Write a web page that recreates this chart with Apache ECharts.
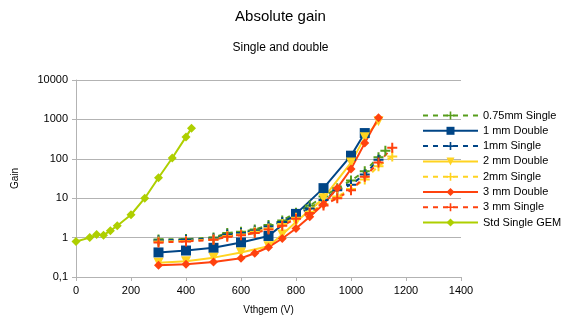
<!DOCTYPE html>
<html>
<head>
<meta charset="utf-8">
<script src="https://cdn.jsdelivr.net/npm/echarts@6/dist/echarts.min.js"></script>
<style>
  html, body { margin: 0; padding: 0; background: #fff; }
  #chart { width: 561px; height: 325px; }
</style>
</head>
<body>
<div id="chart"></div>
<script>
// voltages (V) and gains
var vSingle = [300, 400, 500, 550, 600, 650, 700, 750, 800, 850, 900, 950, 1000, 1050, 1100, 1125];
var gain075Single = [0.9, 0.92, 1.0, 1.3, 1.4, 1.6, 2.1, 2.7, 4.3, 6.5, 11, 18, 28, 48, 110, 160];

var vSingle1 = [300, 400, 500, 550, 600, 650, 700, 750, 800, 850, 900, 950, 1000, 1050, 1100];
var gain1Single = [0.85, 0.88, 0.95, 1.2, 1.3, 1.5, 1.9, 2.5, 3.8, 5.5, 9, 16, 22, 40, 95];

var vSingle2 = [300, 400, 500, 550, 600, 650, 700, 750, 800, 850, 900, 950, 1000, 1050, 1100, 1150];
var gain2Single = [0.8, 0.82, 0.9, 1.1, 1.2, 1.4, 1.7, 2.2, 3.2, 4.5, 7, 11, 17, 30, 65, 115];

var vSingle3 = [300, 400, 500, 550, 600, 650, 700, 750, 800, 850, 900, 950, 1000, 1050, 1100, 1150];
var gain3Single = [0.75, 0.8, 0.88, 1.05, 1.15, 1.3, 1.6, 2.0, 3.0, 4.2, 6.5, 10, 16, 35, 80, 190];

var v1Double = [300, 400, 500, 600, 700, 800, 900, 1000, 1050];
var gain1Double = [0.42, 0.47, 0.55, 0.75, 1.1, 4, 18, 120, 450];

var v2Double = [300, 400, 500, 600, 700, 750, 800, 900, 1000, 1050, 1100];
var gain2Double = [0.23, 0.25, 0.31, 0.42, 0.6, 1.2, 2.5, 10, 80, 350, 900];

var v3Double = [300, 400, 500, 600, 650, 700, 750, 800, 850, 900, 950, 1000, 1050, 1100];
var gain3Double = [0.2, 0.21, 0.24, 0.3, 0.4, 0.57, 0.95, 1.7, 3.4, 7, 18, 55, 250, 1100];

var vStd = [0, 50, 75, 100, 125, 150, 200, 250, 300, 350, 400, 420];
var gainStd = [0.8, 1.0, 1.2, 1.15, 1.5, 2.0, 3.8, 10, 33, 105, 360, 600];

var plus = "path://M4,0h2v4h4v2h-4v4h-2v-4h-4v-2h4z";

function pairs(xs, ys) {
  return xs.map(function (x, i) { return [x, ys[i]]; });
}

function single(name, color, xs, ys) {
  return {
    name: name,
    type: "line",
    symbol: plus,
    symbolSize: 10,
    showAllSymbol: true,
    lineStyle: { color: color, width: 2, type: [5, 5] },
    itemStyle: { color: color },
    data: pairs(xs, ys),
  };
}

function solid(name, color, symbol, size, xs, ys) {
  return {
    name: name,
    type: "line",
    symbol: symbol,
    symbolSize: size,
    showAllSymbol: true,
    lineStyle: { color: color, width: 2 },
    itemStyle: { color: color },
    data: pairs(xs, ys),
  };
}

var chart = echarts.init(document.getElementById("chart"));
var option = {
  animation: false,
  textStyle: { fontFamily: "Liberation Sans" },
  title: {
    text: "Absolute gain",
    subtext: "Single and double",
    left: "center",
    top: 4,
    itemGap: 18,
    textStyle: { fontSize: 15, fontWeight: "normal", color: "#000" },
    subtextStyle: { fontSize: 12, color: "#000" },
  },
  legend: {
    orient: "vertical",
    left: 417,
    top: 105,
    itemWidth: 55,
    itemHeight: 10,
    itemGap: 4.3,
    textStyle: { fontSize: 11, color: "#000" },
    data: [
      "0.75mm Single", "1 mm Double", "1mm Single", "2 mm Double",
      "2mm Single", "3 mm Double", "3 mm Single", "Std Single GEM",
    ],
  },
  grid: { left: 76, right: 100, top: 80, bottom: 48 },
  xAxis: {
    type: "value",
    min: 0,
    max: 1400,
    interval: 200,
    name: "Vthgem (V)",
    nameLocation: "middle",
    nameGap: 28,
    nameTextStyle: { fontSize: 10, color: "#000" },
    axisLine: { show: true, lineStyle: { color: "#b3b3b3" } },
    axisTick: { show: true, length: 4, lineStyle: { color: "#b3b3b3" } },
    axisLabel: {
      fontSize: 11,
      color: "#000",
      formatter: function (v) { return String(v); },
    },
    splitLine: { show: false },
  },
  yAxis: {
    type: "log",
    logBase: 10,
    min: 0.1,
    max: 10000,
    name: "Gain",
    nameLocation: "middle",
    nameGap: 56,
    nameTextStyle: { fontSize: 10, color: "#000" },
    axisLine: { show: true, lineStyle: { color: "#b3b3b3" } },
    axisTick: { show: true, length: 4, lineStyle: { color: "#b3b3b3" } },
    axisLabel: {
      fontSize: 11,
      color: "#000",
      formatter: function (v) {
        var r = Math.round(v * 10) / 10;
        return String(r).replace(".", ",");
      },
    },
    splitLine: { show: true, lineStyle: { color: "#b3b3b3" } },
  },
  series: [
    single("0.75mm Single", "#579d1c", vSingle, gain075Single),
    solid("1 mm Double", "#004586", "rect", 10, v1Double, gain1Double),
    single("1mm Single", "#004586", vSingle1, gain1Single),
    solid("2 mm Double", "#ffd320", "path://M0,0L10,0L5,8Z", 10, v2Double, gain2Double),
    single("2mm Single", "#ffd320", vSingle2, gain2Single),
    solid("3 mm Double", "#ff420e", "diamond", 9, v3Double, gain3Double),
    single("3 mm Single", "#ff420e", vSingle3, gain3Single),
    solid("Std Single GEM", "#aecf00", "diamond", 9, vStd, gainStd),
  ],
};
chart.setOption(option);
</script>
</body>
</html>
